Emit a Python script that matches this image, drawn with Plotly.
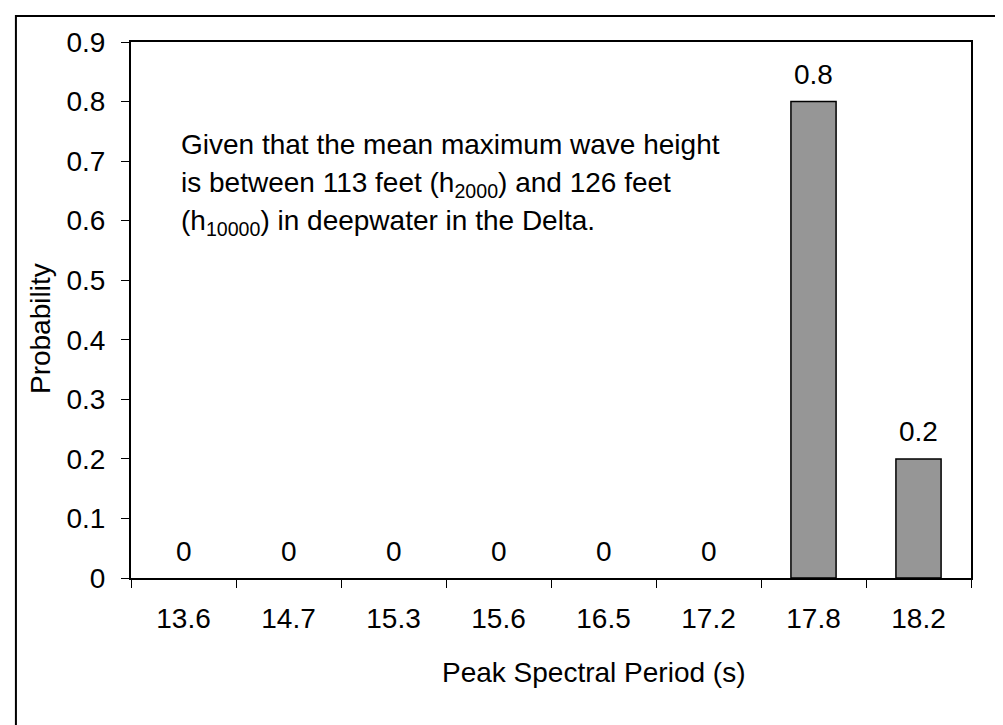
import plotly.graph_objects as go

# data
periods = ["13.6", "14.7", "15.3", "15.6", "16.5", "17.2", "17.8", "18.2"]
probability = [0, 0, 0, 0, 0, 0, 0.8, 0.2]
value_labels = ["0", "0", "0", "0", "0", "0", "0.8", "0.2"]
y_ticks = [0, 0.1, 0.2, 0.3, 0.4, 0.5, 0.6, 0.7, 0.8, 0.9]
y_ticktext = ["0", "0.1", "0.2", "0.3", "0.4", "0.5", "0.6", "0.7", "0.8", "0.9"]
note_lines = [
    "Given that the mean maximum wave height",
    "is between 113 feet (h<sub>2000</sub>) and 126 feet",
    "(h<sub>10000</sub>) in deepwater in the Delta.",
]
note_levels = [0.728, 0.661, 0.597]

FONT = "Liberation Sans, Arial, sans-serif"
FS = 28

# zero-height bars get no outline, so nothing shows on the axis
outline_widths = [1.5 if v > 0 else 0 for v in probability]

fig = go.Figure()
fig.add_trace(
    go.Bar(
        x=periods,
        y=probability,
        marker=dict(color="#969696", line=dict(color="black", width=outline_widths)),
        hoverinfo="x+y",
    )
)

# value labels above the bars (category index for x)
for i, (val, lab) in enumerate(zip(probability, value_labels)):
    fig.add_annotation(
        x=i, y=val, text=lab, showarrow=False,
        yanchor="middle", yshift=27,
        font=dict(size=FS, color="black", family=FONT),
    )

# note text inside the plot
for line, lvl in zip(note_lines, note_levels):
    fig.add_annotation(
        xref="paper", yref="y", x=0.057, y=lvl, text=line,
        showarrow=False, xanchor="left", yanchor="middle",
        font=dict(size=FS, color="black", family=FONT),
    )

# axis titles
fig.add_annotation(
    xref="paper", yref="paper", x=0.55, y=-0.177,
    text="Peak Spectral Period (s)", showarrow=False,
    xanchor="center", yanchor="middle",
    font=dict(size=FS, color="black", family=FONT),
)
fig.add_annotation(
    xref="paper", yref="paper", x=-0.108, y=0.465,
    text="Probability", textangle=-90, showarrow=False,
    xanchor="center", yanchor="middle",
    font=dict(size=FS, color="black", family=FONT),
)

# outer chart border (runs off the right and bottom edges)
fig.add_shape(
    type="rect", xref="paper", yref="paper",
    x0=-0.137, y0=-0.5, x1=1.2, y1=1.0485,
    line=dict(color="black", width=2),
)

fig.update_xaxes(
    type="category",
    range=[-0.5, len(periods) - 0.5],
    showline=True, linecolor="black", linewidth=2, mirror=True,
    ticks="outside", ticklen=8, tickwidth=1, tickcolor="black",
    tickson="boundaries",
    tickangle=0,
    ticklabelstandoff=14,
    tickfont=dict(size=FS, color="black", family=FONT),
    showgrid=False,
)
fig.update_yaxes(
    range=[0, 0.9],
    tickvals=y_ticks, ticktext=y_ticktext,
    showline=True, linecolor="black", linewidth=2, mirror=True,
    ticks="outside", ticklen=8, tickwidth=1, tickcolor="black",
    ticklabelstandoff=10,
    tickfont=dict(size=FS, color="black", family=FONT),
    showgrid=False, zeroline=False,
)

fig.update_layout(
    width=1003,
    height=725,
    autosize=False,
    margin=dict(l=123, r=40, t=34, b=155),
    plot_bgcolor="white",
    paper_bgcolor="white",
    bargap=0.57,
    showlegend=False,
    font=dict(family=FONT, color="black"),
)

fig.write_html("out.html")
